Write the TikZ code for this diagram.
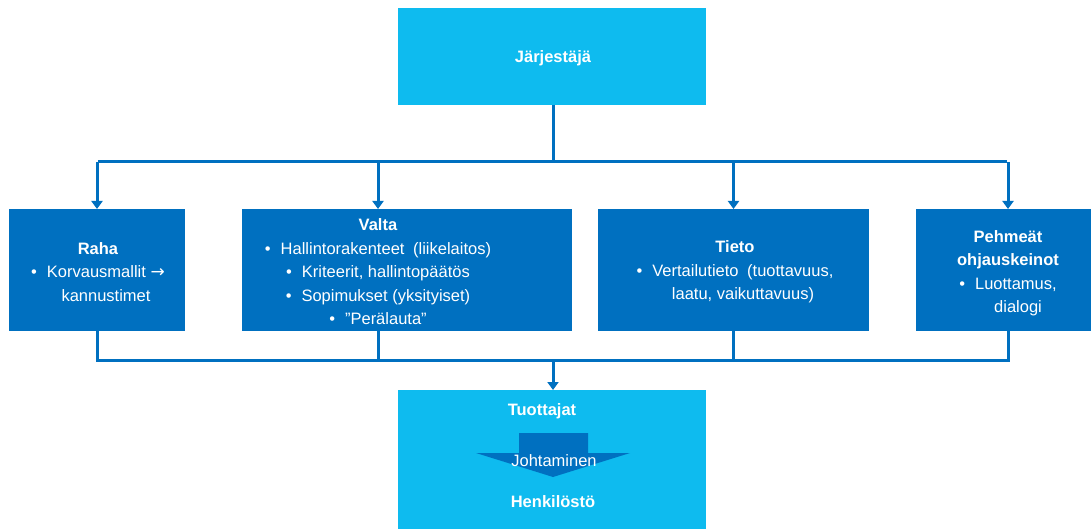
\documentclass[tikz,border=0pt]{standalone}
\usepackage{fontspec}
\setmainfont{Liberation Sans}
\newfontfamily\symfont{DejaVu Sans}
\usetikzlibrary{arrows.meta}
\definecolor{skyfill}{HTML}{0EBBEF}
\definecolor{deepblue}{HTML}{0070C0}
\newcommand{\bul}{\textbullet\hspace{10pt}}
\tikzset{
  box/.style={fill=deepblue, inner sep=0pt, outer sep=0pt},
  skybox/.style={fill=skyfill, inner sep=0pt, outer sep=0pt},
  label/.style={text=white, inner sep=0pt, align=center,
    font=\fontsize{16.5}{23.5}\selectfont},
  title/.style={label, font=\fontsize{16.5}{20}\selectfont\bfseries},
  conn/.style={draw=deepblue, line width=3pt},
  arr/.style={conn, -{Triangle[width=11pt,length=8pt]}},
}
\begin{document}
\begin{tikzpicture}[x=1pt,y=-1pt]
\useasboundingbox (0,0) rectangle (1091,529);

% organiser at the top
\node[skybox, minimum width=308pt, minimum height=97pt] (top) at (552,56.5) {};
\node[title] (toptext) at (553,58) {Järjestäjä};

% four steering channels
\node[box, minimum width=176pt, minimum height=122pt] (raha) at (97,270) {};
\node[box, minimum width=330pt, minimum height=122pt] (valta) at (407,270) {};
\node[box, minimum width=271pt, minimum height=122pt] (tieto) at (733.5,270) {};
\node[box, minimum width=184pt, minimum height=122pt] (pehm) at (1008,270) {};

\node[label] (rahatext) at (98,272)
  {\textbf{Raha}\\ \bul Korvausmallit {\symfont\fontsize{17}{17}\selectfont →}\\ \hspace*{16pt}kannustimet};
\node[label] (valtatext) at (378,272)
  {\textbf{Valta}\\ \bul Hallintorakenteet\hspace{4pt} (liikelaitos)\\ \bul Kriteerit, hallintopäätös\\ \bul Sopimukset (yksityiset)\\ \bul ”Perälauta”};
\node[label] (tietotext) at (735,272)
  {\textbf{Tieto}\\ \bul Vertailutieto\hspace{4pt} (tuottavuus,\\ \hspace*{16pt}laatu, vaikuttavuus)};
\node[label] (pehmtext) at (1008,273)
  {\textbf{Pehmeät}\\ \textbf{ohjauskeinot}\\ \bul Luottamus,\\ \hspace*{20pt}dialogi};

% producers at the bottom
\node[skybox, minimum width=308pt, minimum height=150pt] (tuott) at (552,465) {};
\node[title] (tuotttext) at (542,411) {Tuottajat};
\fill[deepblue] (519,433) -- (588,433) -- (588,453) -- (630,453) -- (553,477)
  -- (476,453) -- (519,453) -- cycle;
\node[label] (johto) at (554,461) {Johtaminen};
\node[title] (henk) at (553,502) {Henkilöstö};

% junctions of the connector bus lines
\coordinate (hub) at (553,162);
\coordinate (low) at (553,360);
\coordinate (vtop) at (378,209);
\coordinate (vbot) at (378,331);

\draw[conn] (top.south -| hub) -- (hub);
\draw[conn] (98,162) -- (1007,162);
\draw[arr] (hub -| raha.north) -- (raha.north);
\draw[arr] (hub -| vtop) -- (vtop);
\draw[arr] (hub -| tieto.north) -- (tieto.north);
\draw[arr] (hub -| pehm.north) -- (pehm.north);

\draw[conn] (raha.south) |- (low);
\draw[conn] (vbot) -- (vbot |- low);
\draw[conn] (tieto.south) -- (tieto.south |- low);
\draw[conn] (pehm.south) |- (low);
\draw[arr] (low) -- (tuott.north -| low);
\end{tikzpicture}
\end{document}
